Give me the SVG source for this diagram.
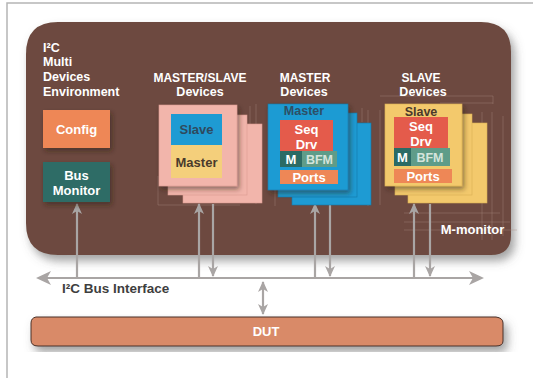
<svg xmlns="http://www.w3.org/2000/svg" width="533" height="378" viewBox="0 0 533 378">
  <defs>
    <style>
      text { font-family: "Liberation Sans", Arial, sans-serif; font-weight: bold; }
      .head { fill: #ffffff; font-size: 12px; }
      .title { fill: #ffffff; font-size: 12.5px; }
      .wt { fill: #ffffff; font-size: 13px; }
      .wire { stroke: #a9a5a4; stroke-width: 2.2; fill: none; }
      .ghost { stroke: #a78a7f; stroke-width: 0.7; fill: none; opacity: 0.55; }
      .pink { fill: #f2b5ab; stroke: #d99a90; stroke-width: 0.6; }
      .blue { fill: #1e9bd3; stroke: #137aa8; stroke-width: 0.6; }
      .yel { fill: #f3c96c; stroke: #d9ae55; stroke-width: 0.6; }
      .seq { fill: #e45b4b; }
      .ports { fill: #ee8756; }
      .mbox { fill: #2b6b65; }
      .bfm { fill: #5f9c89; }
    </style>
    <filter id="shadow" x="-10%" y="-10%" width="125%" height="130%">
      <feDropShadow dx="4" dy="6" stdDeviation="5" flood-color="#555" flood-opacity="0.55"/>
    </filter>
    <filter id="soft" x="-20%" y="-20%" width="150%" height="150%">
      <feDropShadow dx="2" dy="3" stdDeviation="2.5" flood-color="#2a1a14" flood-opacity="0.5"/>
    </filter>
    <marker id="headBig" markerUnits="userSpaceOnUse" markerWidth="16" markerHeight="14" refX="13" refY="7" orient="auto-start-reverse">
      <path d="M0,0 L15,7 L0,14 L4,7 z" fill="#a9a5a4"/>
    </marker>
    <marker id="head" markerUnits="userSpaceOnUse" markerWidth="12" markerHeight="10" refX="10" refY="5" orient="auto-start-reverse">
      <path d="M0,0 L11,5 L0,10 L3,5 z" fill="#a9a5a4"/>
    </marker>
  </defs>

  <!-- page frame -->
  <rect x="0" y="0" width="533" height="378" fill="#ffffff"/>
  <path d="M7,378 V3 H533" fill="none" stroke="#b5b5b5" stroke-width="1.5"/>

  <!-- environment panel -->
  <g id="environment">
    <path d="M58,22 H481 Q511,22 511,52 V235 Q511,255 491,255 H58 Q26,255 26,223 V54 Q26,22 58,22 z" fill="#6d4a3f" filter="url(#shadow)"/>
    <text class="title" x="43" y="52">I²C</text>
    <text class="title" x="43" y="66">Multi</text>
    <text class="title" x="43" y="81">Devices</text>
    <text class="title" x="43" y="96">Environment</text>
  </g>

  <!-- faint outline traces inside the panel -->
  <g id="traces">
    <path class="ghost" d="M256,104 V204 M250,106 V200 M158,176 V205 H240"/>
    <path class="ghost" d="M362,108 V122 M368,110 V206 M275,190 V206"/>
    <path class="ghost" d="M380,96 H493 V104 M440,103 H493 M482,112 V240 M492,112 V240 M503,116 V236 M404,213 H500 M404,222 H510 M404,230 H517 M380,110 V205"/>
  </g>

  <!-- bus and connectors -->
  <g id="connectors">
    <line class="wire" x1="38" y1="278" x2="482" y2="278" marker-start="url(#headBig)" marker-end="url(#headBig)"/>
    <line class="wire" x1="77" y1="278" x2="77" y2="204" marker-end="url(#head)"/>
    <line class="wire" x1="199" y1="278" x2="199" y2="204" marker-end="url(#head)"/>
    <line class="wire" x1="213" y1="204" x2="213" y2="276" marker-end="url(#head)"/>
    <line class="wire" x1="315" y1="278" x2="315" y2="204" marker-end="url(#head)"/>
    <line class="wire" x1="330" y1="204" x2="330" y2="276" marker-end="url(#head)"/>
    <line class="wire" x1="414" y1="278" x2="414" y2="204" marker-end="url(#head)"/>
    <line class="wire" x1="430" y1="204" x2="430" y2="276" marker-end="url(#head)"/>
    <line class="wire" x1="263" y1="282" x2="263" y2="314" marker-start="url(#head)" marker-end="url(#head)"/>
    <text x="62" y="293" fill="#3e3e3e" font-size="13.5">I²C Bus Interface</text>
  </g>

  <g id="config">
    <rect x="43" y="110" width="67" height="38" fill="#ee8756" filter="url(#soft)"/>
    <text class="wt" x="76.5" y="134" text-anchor="middle" font-size="13">Config</text>
  </g>

  <g id="bus-monitor">
    <rect x="43" y="162" width="67" height="40" fill="#2e6c66" filter="url(#soft)"/>
    <text class="wt" x="76.5" y="180" text-anchor="middle" font-size="13.5">Bus</text>
    <text class="wt" x="76.5" y="195" text-anchor="middle" font-size="13.5">Monitor</text>
  </g>

  <g id="master-slave-devices">
    <text class="head" x="200" y="82" text-anchor="middle">MASTER/SLAVE</text>
    <text class="title" x="200" y="96" text-anchor="middle">Devices</text>
    <rect class="pink" x="183" y="124" width="79" height="79"/>
    <rect class="pink" x="168" y="115" width="79" height="80"/>
    <rect class="pink" x="159" y="105" width="78" height="81" filter="url(#soft)"/>
    <rect x="171" y="114" width="51" height="31" fill="#1e9bd3"/>
    <text x="196.5" y="134" text-anchor="middle" font-size="13" fill="#2f4a5e">Slave</text>
    <rect x="171" y="145" width="51" height="33" fill="#f4cf7b"/>
    <text x="196.5" y="167" text-anchor="middle" font-size="13" fill="#4a3a2c">Master</text>
  </g>

  <g id="master-devices">
    <text class="head" x="305" y="82" text-anchor="middle">MASTER</text>
    <text class="title" x="304" y="96" text-anchor="middle">Devices</text>
    <rect class="blue" x="292" y="123" width="79" height="82"/>
    <rect class="blue" x="278" y="113" width="79" height="84"/>
    <rect class="blue" x="268" y="104" width="80" height="86" filter="url(#soft)"/>
    <text x="304" y="115" text-anchor="middle" font-size="12.5" fill="#2d4f66">Master</text>
    <rect class="seq" x="280" y="120" width="53" height="31"/>
    <text class="wt" x="306.5" y="134" text-anchor="middle" font-size="13.5">Seq</text>
    <text class="wt" x="306.5" y="149" text-anchor="middle" font-size="13.5">Drv</text>
    <rect class="mbox" x="280" y="151" width="22" height="16"/>
    <rect class="bfm" x="302" y="151" width="35" height="16"/>
    <text class="wt" x="291" y="164" text-anchor="middle" font-size="13">M</text>
    <text x="319.5" y="164" text-anchor="middle" font-size="12.5" fill="#d5e4dc">BFM</text>
    <rect class="ports" x="280" y="170" width="58" height="14"/>
    <text class="wt" x="309" y="182" text-anchor="middle" font-size="13">Ports</text>
  </g>

  <g id="slave-devices">
    <text class="head" x="421" y="82" text-anchor="middle">SLAVE</text>
    <text class="title" x="423" y="96" text-anchor="middle">Devices</text>
    <rect class="yel" x="408" y="123" width="79" height="80"/>
    <rect class="yel" x="395" y="114" width="77" height="81"/>
    <rect class="yel" x="385" y="104" width="77" height="82" filter="url(#soft)"/>
    <text x="421" y="116" text-anchor="middle" font-size="12.5" fill="#4a3a2c">Slave</text>
    <rect class="seq" x="394" y="117" width="54" height="31"/>
    <text class="wt" x="421" y="131" text-anchor="middle" font-size="13.5">Seq</text>
    <text class="wt" x="421" y="146" text-anchor="middle" font-size="13.5">Drv</text>
    <rect class="mbox" x="394" y="148" width="17" height="18"/>
    <rect class="bfm" x="411" y="148" width="39" height="18"/>
    <text class="wt" x="402.5" y="162" text-anchor="middle" font-size="13">M</text>
    <text x="430" y="162" text-anchor="middle" font-size="12.5" fill="#d5e4dc">BFM</text>
    <rect class="ports" x="394" y="169" width="58" height="14"/>
    <text class="wt" x="423" y="181" text-anchor="middle" font-size="13">Ports</text>
    <text class="wt" x="472.5" y="234" text-anchor="middle">M-monitor</text>
  </g>

  <g id="dut">
    <path d="M36,317 H496 Q503,318 503,323 V341 Q503,346 496,346 H38 Q31,346 31,340 V323 Q31,318 36,317 z" fill="#d98a67" stroke="#4a3028" stroke-width="1" filter="url(#shadow)"/>
    <text class="wt" x="266" y="336" text-anchor="middle" font-size="13.5">DUT</text>
  </g>
</svg>
